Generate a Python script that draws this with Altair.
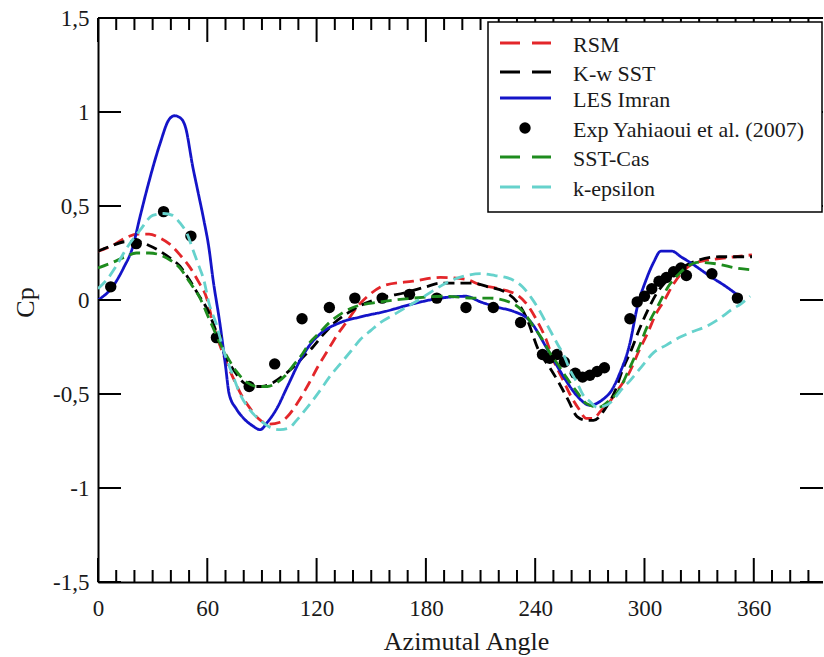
import altair as alt
import pandas as pd

# ---------------- data ----------------
rsm_x = [0, 8, 15, 22, 28, 34, 39, 45, 50, 55, 60, 63, 68, 74, 79, 83, 88, 94, 100, 104, 110, 116, 121, 126, 131, 137, 142, 148, 158, 173, 188, 202, 210, 220, 231, 236, 241, 246, 250, 255, 259, 264, 268, 272, 276, 281, 286, 292, 297, 302, 306, 311, 315, 320, 326, 333, 341, 350, 359]
rsm_y = [0.26, 0.29, 0.33, 0.35, 0.35, 0.33, 0.30, 0.24, 0.18, 0.10, 0.0, -0.12, -0.27, -0.41, -0.51, -0.57, -0.63, -0.66, -0.65, -0.62, -0.54, -0.44, -0.35, -0.27, -0.19, -0.11, -0.04, 0.02, 0.08, 0.10, 0.12, 0.11, 0.08, 0.06, 0.02, -0.03, -0.11, -0.21, -0.32, -0.42, -0.50, -0.58, -0.63, -0.63, -0.59, -0.54, -0.47, -0.38, -0.27, -0.17, -0.08, 0.0, 0.07, 0.14, 0.19, 0.21, 0.22, 0.23, 0.24]

kw_x = [0, 8, 15, 22, 28, 34, 40, 45, 50, 55, 60, 65, 70, 75, 80, 85, 90, 96, 102, 108, 113, 118, 124, 130, 137, 144, 155, 169, 180, 188, 206, 214, 224, 230, 235, 242, 248, 253, 258, 263, 268, 272, 279, 284, 288, 293, 297, 302, 307, 312, 318, 324, 329, 341, 359]
kw_y = [0.26, 0.29, 0.31, 0.31, 0.29, 0.26, 0.22, 0.18, 0.11, 0.03, -0.05, -0.17, -0.30, -0.38, -0.44, -0.46, -0.46, -0.44, -0.40, -0.35, -0.30, -0.25, -0.18, -0.12, -0.07, -0.03, 0.01, 0.04, 0.07, 0.09, 0.09, 0.07, 0.04, -0.01, -0.09, -0.27, -0.36, -0.44, -0.53, -0.62, -0.64, -0.64, -0.57, -0.48, -0.37, -0.26, -0.16, -0.05, 0.04, 0.10, 0.16, 0.19, 0.21, 0.23, 0.23]

les_x = [0, 8, 14, 19, 23, 28, 34, 39, 42, 45, 48, 52, 55, 58, 61, 63, 67, 70, 72, 76, 80, 85, 89, 93, 98, 104, 111, 117, 122, 133, 144, 158, 173, 188, 202, 210, 220, 228, 237, 246, 252, 257, 263, 270, 277, 282, 286, 292, 296, 301, 305, 309, 315, 320, 325, 337, 345, 352]
les_y = [0.0, 0.07, 0.17, 0.28, 0.44, 0.63, 0.83, 0.96, 0.98, 0.97, 0.92, 0.71, 0.57, 0.43, 0.27, 0.12, -0.13, -0.35, -0.50, -0.58, -0.63, -0.67, -0.69, -0.65, -0.58, -0.46, -0.32, -0.23, -0.18, -0.12, -0.09, -0.06, -0.02, 0.01, 0.02, -0.01, -0.04, -0.06, -0.11, -0.25, -0.35, -0.43, -0.51, -0.56, -0.53, -0.48, -0.40, -0.23, -0.04, 0.11, 0.20, 0.26, 0.26, 0.23, 0.20, 0.12, 0.07, 0.02]

exp_x = [7, 21, 36, 51, 65, 83, 97, 112, 127, 141, 156, 171, 186, 202, 217, 232, 244, 248, 252, 256, 262, 266, 270, 274, 278, 292, 296, 300, 304, 308, 312, 316, 320, 323, 337, 351]
exp_y = [0.07, 0.30, 0.47, 0.34, -0.20, -0.46, -0.34, -0.10, -0.04, 0.01, 0.01, 0.03, 0.01, -0.04, -0.04, -0.12, -0.29, -0.31, -0.29, -0.33, -0.39, -0.41, -0.40, -0.38, -0.36, -0.10, -0.01, 0.02, 0.06, 0.10, 0.12, 0.15, 0.17, 0.13, 0.14, 0.01]

sst_x = [0, 8, 15, 21, 28, 34, 40, 45, 50, 56, 61, 67, 72, 76, 82, 87, 93, 98, 103, 107, 112, 116, 122, 127, 134, 140, 155, 173, 191, 206, 215, 228, 234, 239, 244, 248, 253, 257, 263, 268, 275, 280, 286, 291, 297, 302, 308, 313, 319, 324, 329, 341, 350, 359]
sst_y = [0.17, 0.20, 0.23, 0.25, 0.25, 0.24, 0.21, 0.17, 0.10, 0.01, -0.10, -0.23, -0.32, -0.38, -0.44, -0.46, -0.46, -0.44, -0.40, -0.35, -0.29, -0.23, -0.17, -0.12, -0.07, -0.04, -0.01, 0.01, 0.02, 0.01, 0.01, -0.02, -0.07, -0.14, -0.21, -0.28, -0.35, -0.41, -0.49, -0.55, -0.57, -0.54, -0.48, -0.38, -0.25, -0.13, -0.02, 0.07, 0.14, 0.18, 0.20, 0.19, 0.17, 0.16]

keps_x = [0, 5, 10, 16, 23, 30, 36, 41, 45, 49, 52, 55, 58, 61, 65, 69, 74, 78, 83, 89, 95, 100, 105, 109, 115, 122, 127, 133, 139, 144, 150, 155, 162, 169, 176, 184, 193, 202, 210, 218, 224, 229, 233, 238, 242, 247, 252, 256, 259, 263, 266, 270, 274, 279, 283, 287, 292, 298, 305, 312, 319, 326, 334, 341, 348, 353, 358]
keps_y = [0.06, 0.11, 0.18, 0.28, 0.37, 0.45, 0.46, 0.45, 0.41, 0.35, 0.27, 0.19, 0.11, -0.02, -0.13, -0.27, -0.40, -0.50, -0.58, -0.64, -0.68, -0.69, -0.68, -0.64, -0.57, -0.48, -0.41, -0.34, -0.27, -0.21, -0.16, -0.12, -0.08, -0.04, 0.0, 0.05, 0.10, 0.13, 0.14, 0.13, 0.12, 0.10, 0.07, 0.01, -0.05, -0.14, -0.23, -0.30, -0.37, -0.44, -0.50, -0.54, -0.57, -0.56, -0.53, -0.48, -0.43, -0.36, -0.28, -0.24, -0.20, -0.17, -0.14, -0.10, -0.05, -0.02, 0.02]

series_names = ["RSM", "K-w SST", "LES Imran", "Exp Yahiaoui et al. (2007)", "SST-Cas", "k-epsilon"]
series_colors = ["#e3262a", "#000000", "#1414c8", "#000000", "#1e8c1e", "#66d2cc"]

x_major = [0, 60, 120, 180, 240, 300, 360]
x_minor = [10, 20, 30, 40, 50, 70, 80, 90, 100, 110, 130, 140, 150, 160, 170, 190, 200, 210, 220, 230, 250, 260, 270, 280, 290, 310, 320, 330, 340, 350, 370, 380, 390]
y_major = [-1.5, -1.0, -0.5, 0.0, 0.5, 1.0, 1.5]

# ---------------- layout ----------------
W, H = 725, 564
FONT = "Liberation Serif"
TXT = "#1a1a1a"

x_scale = alt.Scale(domain=[0, 398], nice=False, zero=False)
y_scale = alt.Scale(domain=[-1.5, 1.5], nice=False, zero=False)

x_axis = alt.Axis(values=x_major, ticks=False, tickSize=0, grid=False, labelFlush=False,
                  domainColor="black", domainWidth=2,
                  labelFont=FONT, labelFontSize=23, labelColor=TXT,
                  labelBaseline="alphabetic", labelPadding=33,
                  title="Azimutal Angle", titleFont=FONT, titleFontSize=26,
                  titleFontWeight="normal", titleColor=TXT,
                  titleBaseline="alphabetic", titleY=67, titleX=368)
y_axis = alt.Axis(values=y_major, ticks=False, tickSize=0, grid=False, labelFlush=False,
                  domainColor="black", domainWidth=2,
                  labelFont=FONT, labelFontSize=23, labelColor=TXT,
                  labelPadding=9,
                  labelExpr="(datum.value < 0 ? '-' : '') + replace(toString(abs(datum.value)), '.', ',')",
                  title="Cp", titleFont=FONT, titleFontSize=26,
                  titleFontWeight="normal", titleColor=TXT,
                  titleX=-73, titleY=284, titleAngle=-90,
                  titleAlign="center", titleBaseline="middle")


def X(field="x"):
    return alt.X(f"{field}:Q", scale=x_scale, axis=x_axis)


def Y(field="y"):
    return alt.Y(f"{field}:Q", scale=y_scale, axis=y_axis)


def curve(xs, ys, color, dash, width=2.8):
    df = pd.DataFrame({"x": xs, "y": ys, "i": range(len(xs))})
    return alt.Chart(df).mark_line(color=color, strokeDash=dash, strokeWidth=width,
                                   interpolate="monotone", clip=True).encode(
        x=X(), y=Y(), order="i:Q")


CURVE_DASH = [11, 6]
rsm = curve(rsm_x, rsm_y, series_colors[0], CURVE_DASH)
kw = curve(kw_x, kw_y, series_colors[1], CURVE_DASH)
les = curve(les_x, les_y, series_colors[2], [1, 0], 2.8)
sst = curve(sst_x, sst_y, series_colors[4], CURVE_DASH)
keps = curve(keps_x, keps_y, series_colors[5], CURVE_DASH)

exp_df = pd.DataFrame({"x": exp_x, "y": exp_y})
exp = alt.Chart(exp_df).mark_point(filled=True, shape="circle", size=130,
                                   color="black", opacity=1).encode(x=X(), y=Y())

# ---------------- frame ticks ----------------
xmaj_df = pd.DataFrame({"x": x_major})
xmin_df = pd.DataFrame({"x": x_minor})
ymaj_df = pd.DataFrame({"y": y_major})

tick_style = dict(color="black", strokeWidth=2)
bot_major = alt.Chart(xmaj_df).mark_rule(**tick_style).encode(x=X(), y=alt.value(H), y2=alt.value(H - 24))
bot_minor = alt.Chart(xmin_df).mark_rule(**tick_style).encode(x=X(), y=alt.value(H), y2=alt.value(H - 12))
top_major = alt.Chart(xmaj_df).mark_rule(**tick_style).encode(x=X(), y=alt.value(0), y2=alt.value(24))
top_minor = alt.Chart(xmin_df).mark_rule(**tick_style).encode(x=X(), y=alt.value(0), y2=alt.value(12))
left_ticks = alt.Chart(ymaj_df).mark_rule(**tick_style).encode(y=Y(), x=alt.value(0), x2=alt.value(23))
right_ticks = alt.Chart(ymaj_df).mark_rule(**tick_style).encode(y=Y(), x=alt.value(W), x2=alt.value(W - 23))

one = pd.DataFrame({"a": [0]})
top_line = alt.Chart(one).mark_rule(color="black", strokeWidth=2).encode(
    x=alt.value(0), x2=alt.value(W), y=alt.value(0))

# ---------------- legend ----------------
legend_box = alt.Chart(one).mark_rect(fill="white", stroke="black", strokeWidth=1.5).encode(
    x=alt.value(390), x2=alt.value(724), y=alt.value(4), y2=alt.value(194))

entry_y = [25, 54, 80, 110, 139, 169]
legend_dash = [[20, 12], [20, 12], [1, 0], None, [20, 12], [20, 12]]
legend_layers = [legend_box]
for name, col, dash, yy in zip(series_names, series_colors, legend_dash, entry_y):
    if dash is None:
        legend_layers.append(alt.Chart(one).mark_point(filled=True, shape="circle", size=130,
                                                       color=col, opacity=1).encode(
            x=alt.value(427), y=alt.value(yy)))
    else:
        legend_layers.append(alt.Chart(one).mark_rule(color=col, strokeWidth=3, strokeDash=dash).encode(
            x=alt.value(402), x2=alt.value(453), y=alt.value(yy)))
    legend_layers.append(alt.Chart(one).mark_text(font=FONT, fontSize=22, color=TXT,
                                                  align="left", baseline="middle").encode(
        x=alt.value(475), y=alt.value(yy + 2), text=alt.value(name)))

chart = alt.layer(
    rsm, kw, les, exp, sst, keps,
    bot_major, bot_minor, top_major, top_minor, left_ticks, right_ticks, top_line,
    *legend_layers,
).properties(
    width=W, height=H,
    padding={"left": 98, "top": 18, "right": 0, "bottom": 75},
    autosize=alt.AutoSizeParams(type="none"),
    background="white",
).configure_view(stroke=None)

chart.save("out.html", embed_options={"renderer": "svg", "actions": False})
